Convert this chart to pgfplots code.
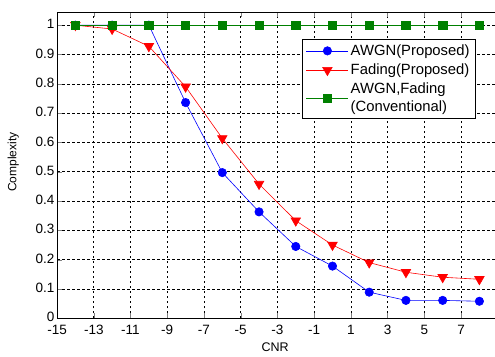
\documentclass[border=0pt]{standalone}
\usepackage{pgfplots}
\pgfplotsset{compat=1.18}
\usepackage{fontspec}
\setmainfont{Liberation Sans}
\definecolor{mgreen}{RGB}{0,128,0}
\begin{document}
\begin{tikzpicture}
\begin{axis}[
  scale only axis, width=437.6pt, height=306pt,
  xmin=-15, xmax=8.85, ymin=0, ymax=1.045,
  xtick={-15,-13,-11,-9,-7,-5,-3,-1,1,3,5,7},
  ytick={0,0.1,0.2,0.3,0.4,0.5,0.6,0.7,0.8,0.9,1},
  yticklabels={0,0.1,0.2,0.3,0.4,0.5,0.6,0.7,0.8,0.9,1},
  axis y line*=left,
  tick align=inside,
  major tick length=5pt,
  axis line style={black, line width=0.8pt},
  grid=major,
  major grid style={black, line width=0.6pt, dash pattern=on 2.5pt off 2.5pt},
  tick label style={font=\fontsize{13.5}{15}\selectfont},
  xticklabel style={yshift=-3pt},
  yticklabel style={xshift=1pt, yshift=1pt},
  /pgf/number format/assume math mode=true,
  xlabel={CNR}, ylabel={Complexity},
  xlabel style={font=\fontsize{12.5}{14}\selectfont, at={(axis description cs:0.498,-0.095)}, anchor=center},
  ylabel style={font=\fontsize{12}{14}\selectfont, at={(axis description cs:-0.1,0.51)}, anchor=center},
  legend style={at={(axis description cs:0.56,0.912)}, anchor=north west, draw=black, line width=0.6pt, fill=white,
    font=\fontsize{14.8}{17.5}\selectfont, cells={anchor=west, align=left}, inner sep=3.5pt, row sep=3pt},
  legend image code/.code={\draw[mark repeat=2,mark phase=2] plot coordinates {(0pt,0pt)(21pt,0pt)(42pt,0pt)};},
]
\addplot[blue, line width=0.6pt, mark=*, mark size=4.2pt, mark options={solid, fill=blue}] coordinates {
(-14,1) (-12,1) (-10,1) (-8,0.736) (-6,0.497) (-4,0.363) (-2,0.245) (0,0.178) (2,0.089) (4,0.061) (6,0.061) (8,0.058)};
\addlegendentry{AWGN(Proposed)}
\addplot[red, line width=0.6pt, mark=triangle*, mark size=5.5pt, mark options={solid, fill=red, rotate=180}] coordinates {
(-14,1) (-12,0.987) (-10,0.928) (-8,0.79) (-6,0.614) (-4,0.458) (-2,0.333) (0,0.25) (2,0.19) (4,0.157) (6,0.14) (8,0.133)};
\addlegendentry{Fading(Proposed)}
\addplot[mgreen, line width=0.6pt, mark=square*, mark size=4.2pt, mark options={solid, fill=mgreen}] coordinates {
(-14,1) (-12,1) (-10,1) (-8,1) (-6,1) (-4,1) (-2,1) (0,1) (2,1) (4,1) (6,1) (8,1)};
\addlegendentry{AWGN,Fading\\(Conventional)}
\coordinate (sw) at (rel axis cs:0,0);
\coordinate (ne) at (rel axis cs:1,1);
\end{axis}
\pgfresetboundingbox
\path ([xshift=-57pt,yshift=-38pt]sw) rectangle ([yshift=12pt]ne);
\end{tikzpicture}
\end{document}
